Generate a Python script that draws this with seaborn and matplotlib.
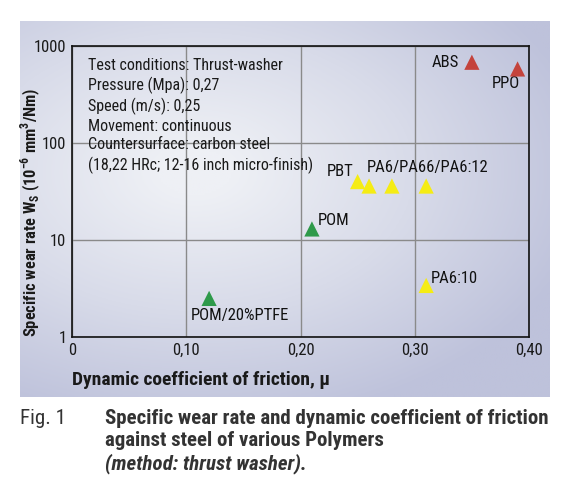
import numpy as np
import pandas as pd
import matplotlib
matplotlib.use("Agg")
import matplotlib.pyplot as plt
import seaborn as sns
from matplotlib.colors import LinearSegmentedColormap
from matplotlib import font_manager as fm

sns.set_theme(style="white")

def wnum(w):
    if isinstance(w, int):
        return w
    return {"bold": 700, "heavy": 800, "black": 900, "semibold": 600, "demibold": 600,
            "medium": 500, "normal": 400, "regular": 400, "book": 400}.get(str(w).lower(), 400)

entries = fm.fontManager.ttflist
narrow_names = sorted({f.name for f in entries if ("Narrow" in f.name or "Condensed" in f.name)})
with_bold = [n for n in narrow_names if any(f.name == n and wnum(f.weight) >= 700 and f.style == "normal" for f in entries)]
pref = [n for n in ["Liberation Sans Narrow", "Roboto Condensed", "Open Sans Condensed", "DejaVu Sans Condensed"] if n in with_bold]
if pref:
    FAM = pref[0]
elif with_bold:
    FAM = with_bold[0]
elif narrow_names:
    FAM = narrow_names[0]
else:
    FAM = "Roboto"
plt.rcParams['font.family'] = [FAM, 'DejaVu Sans']

polymers = ["POM/20%PTFE", "POM", "PBT", "PA6", "PA66", "PA6:12", "PA6:10", "ABS", "PPO"]
friction = [0.12, 0.21, 0.25, 0.26, 0.28, 0.31, 0.31, 0.35, 0.39]
wear = [2.5, 13, 40, 36, 36, 36, 3.4, 680, 580]
group = ["green", "green", "yellow", "yellow", "yellow", "yellow", "yellow", "red", "red"]
palette = {"green": "#2e9a4a", "yellow": "#f5ec14", "red": "#c4433c"}

xticks = [0, 0.10, 0.20, 0.30, 0.40]
xticklabels = ["0", "0,10", "0,20", "0,30", "0,40"]
yticks = [1, 10, 100, 1000]
yticklabels = ["1", "10", "100", "1000"]

df = pd.DataFrame({"polymer": polymers, "mu": friction, "ws": wear, "group": group})

fig = plt.figure(figsize=(5.61, 5.0), dpi=100)

# background panel with soft gradient (decoration)
W, H = 561, 500
px0, px1, py0, py1 = 20, 550, 21, 397
bg = fig.add_axes([px0/W, 1-py1/H, (px1-px0)/W, (py1-py0)/H], zorder=-5)
gy, gx = np.mgrid[0:1:200j, 0:1:280j]
d = np.sqrt(((gx-0.33)/1.0)**2 + ((gy-0.40)/0.9)**2)
t = np.clip(d*1.45 - 0.1, 0, 1)
cmap = LinearSegmentedColormap.from_list("bgc", ["#eef0f5", "#d8dbe9", "#bec2db"])
bg.imshow(t, cmap=cmap, vmin=0, vmax=1, aspect="auto", extent=(0, 1, 1, 0), interpolation="bilinear")
bg.set_axis_off()

ax = fig.add_axes([72/W, 1-337/H, 457/W, 291/H])
ax.set_facecolor("none")

sns.scatterplot(data=df, x="mu", y="ws", hue="group", palette=palette, marker="^", s=120,
                edgecolor="none", legend=False, ax=ax, zorder=5)
ax.set_yscale("log")
ax.set_xlim(0, 0.40)
ax.set_ylim(1, 1000)
ax.set_xticks(xticks)
ax.set_xticklabels(xticklabels)
ax.set_yticks(yticks)
ax.set_yticklabels(yticklabels)
ax.minorticks_off()
ax.tick_params(labelsize=12, length=0, pad=4, colors="#1a1a1a")
ax.grid(True, color="#8a8a8a", linewidth=1)
for s in ax.spines.values():
    s.set_color("#111111")
    s.set_linewidth(1.2)
ax.set_xlabel("")
ax.set_ylabel("Specific wear rate W$_\\mathregular{S}$ (10$^\\mathregular{-6}$ mm$^\\mathregular{3}$/Nm)",
              fontsize=11.9, fontweight="bold", color="#1a1a1a")
ax.yaxis.set_label_coords(-0.0635, 0.43)
fig.text(72/W, 1-380/H, "Dynamic coefficient of friction, μ", fontsize=14, fontweight="bold",
         color="#1a1a1a", va="center")

# point labels
fs = 12
def lab(i, dx, dy, ha, va="center", text=None):
    ax.annotate(text or polymers[i], (friction[i], wear[i]), xytext=(dx, dy), textcoords="offset points",
                ha=ha, va=va, fontsize=fs, color="#111111")
lab(0, -13, -12.5, "left")
lab(1, 4, 6, "left")
lab(2, -3, 7, "right")
lab(3, -2, 13.5, "left", text="PA6/PA66/PA6:12")
lab(6, 3, 5, "left")
lab(7, -9, 0, "right")
lab(8, 2, -10.5, "right")

conds = ("Test conditions: Thrust-washer\nPressure (Mpa): 0,27\nSpeed (m/s): 0,25\n"
         "Movement: continuous\nCountersurface: carbon steel\n(18,22 HRc; 12-16 inch micro-finish)")
ax.text(0.035, 0.96, conds, transform=ax.transAxes, fontsize=11.5, va="top", ha="left",
        linespacing=1.3, color="#1a1a1a")

# caption
cfs = 15
fig.text(20/W, 1-418/H, "Fig. 1", fontsize=cfs, color="#333333", va="center")
fig.text(105/W, 1-418/H, "Specific wear rate and dynamic coefficient of friction",
         fontsize=cfs, fontweight="bold", color="#333333", va="center")
fig.text(105/W, 1-441/H, "against steel of various Polymers",
         fontsize=cfs, fontweight="bold", color="#333333", va="center")
fig.text(105/W, 1-464/H, "(method: thrust washer).",
         fontsize=cfs, fontweight="bold", style="italic", color="#333333", va="center")

fig.savefig("out.png", dpi=100, facecolor="white")
